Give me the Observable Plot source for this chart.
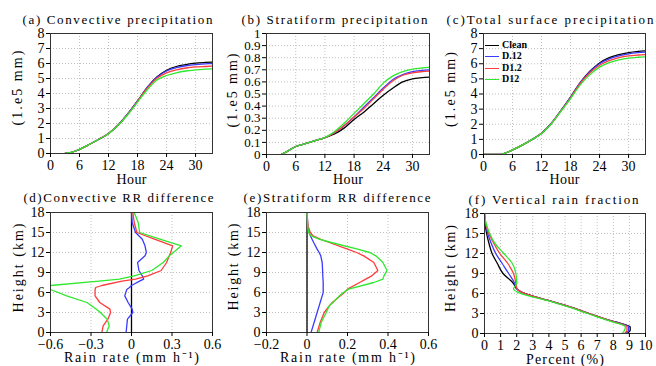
<!DOCTYPE html>
<html><head><meta charset="utf-8">
<script src="https://cdn.jsdelivr.net/npm/d3@7"></script>
<script src="https://cdn.jsdelivr.net/npm/@observablehq/plot@0.6"></script>
<style>
body{margin:0;background:#fff;}
#chart{position:relative;width:656px;height:366px;overflow:hidden;background:#fff;}
#chart svg{position:absolute;}
.leg{position:absolute;font:bold 10px 'Liberation Serif',serif;color:#000;line-height:12px;white-space:nowrap;}
.leg span{display:inline-block;width:14px;height:0;border-top:1.5px solid;vertical-align:middle;margin-right:3px;}
</style></head><body><div id="chart"></div>
<script>
// ---------- data ----------
const series = ["Clean", "D.12", "D1.2", "D12"];
const colors = ["#000000", "#3b3bff", "#ff3b3b", "#2ee82e"];

const titles = ["(a) Convective precipitation", "(b) Stratiform precipitation", "(c)Total surface precipitation",
                "(d)Convective RR difference", "(e)Stratiform RR difference", "(f) Vertical rain fraction"];
const yLabels = ["(1.e5 mm)", "(1.e5 mm)", "(1.e5 mm)", "Height (km)", "Height (km)", "Height (km)"];
const xLabels = ["Hour", "Hour", "Hour", "Rain rate (mm h\u207B\u00B9)", "Rain rate (mm h\u207B\u00B9)", "Percent (%)"];

const hourTicks = [0, 6, 12, 18, 24, 30];
const precipTicks = [0, 1, 2, 3, 4, 5, 6, 7, 8];
const stratTicks = [0, 0.1, 0.2, 0.3, 0.4, 0.5, 0.6, 0.7, 0.8, 0.9, 1];
const heightTicks = [0, 3, 6, 9, 12, 15, 18];
const convRRTicks = [-0.6, -0.3, 0, 0.3, 0.6];
const stratRRTicks = [-0.2, 0, 0.2, 0.4, 0.6];
const percentTicks = [0, 1, 2, 3, 4, 5, 6, 7, 8, 9, 10];

// (a) convective precipitation (1e5 mm) vs hour
const hoursA = [3, 4, 6, 8, 10, 12, 14, 16, 18, 20, 22, 24, 26, 28, 30, 32, 33.5];
const convClean = [0, 0.05, 0.28, 0.6, 0.95, 1.33, 1.9, 2.65, 3.5, 4.4, 5.1, 5.55, 5.8, 5.93, 6.02, 6.07, 6.1];
const convDp12  = [0, 0.05, 0.28, 0.6, 0.95, 1.33, 1.9, 2.65, 3.5, 4.4, 5.08, 5.5, 5.72, 5.85, 5.93, 5.97, 6.0];
const convD1p2  = [0, 0.05, 0.28, 0.6, 0.95, 1.33, 1.9, 2.63, 3.48, 4.35, 5.02, 5.38, 5.58, 5.7, 5.77, 5.8, 5.82];
const convD12   = [0, 0.05, 0.28, 0.6, 0.95, 1.32, 1.88, 2.6, 3.42, 4.25, 4.9, 5.2, 5.38, 5.5, 5.57, 5.62, 5.65];

// (b) stratiform precipitation (1e5 mm) vs hour
const hoursB = [3, 4, 6, 8, 10, 12, 14, 16, 18, 20, 22, 24, 26, 28, 30, 32, 33.5];
const stratClean = [0, 0.02, 0.066, 0.09, 0.115, 0.14, 0.17, 0.22, 0.29, 0.35, 0.42, 0.49, 0.55, 0.6, 0.625, 0.635, 0.64];
const stratDp12  = [0, 0.02, 0.066, 0.09, 0.115, 0.14, 0.18, 0.24, 0.31, 0.39, 0.47, 0.55, 0.62, 0.66, 0.685, 0.695, 0.70];
const stratD1p2  = [0, 0.02, 0.066, 0.09, 0.115, 0.14, 0.18, 0.24, 0.31, 0.38, 0.46, 0.54, 0.61, 0.655, 0.675, 0.685, 0.69];
const stratD12   = [0, 0.02, 0.066, 0.09, 0.115, 0.14, 0.19, 0.26, 0.34, 0.42, 0.5, 0.59, 0.65, 0.685, 0.705, 0.715, 0.72];

// (c) total surface precipitation (1e5 mm) vs hour
const hoursC = [0, 2, 3.5, 4, 6, 8, 10, 12, 14, 16, 18, 20, 22, 24, 26, 28, 30, 32, 33.5];
const totClean = [0, 0, 0, 0.04, 0.3, 0.62, 0.98, 1.4, 2.05, 2.9, 3.8, 4.75, 5.5, 6.05, 6.4, 6.6, 6.74, 6.82, 6.86];
const totDp12  = [0, 0, 0, 0.04, 0.3, 0.62, 0.98, 1.4, 2.05, 2.9, 3.8, 4.75, 5.48, 6.0, 6.32, 6.52, 6.65, 6.73, 6.77];
const totD1p2  = [0, 0, 0, 0.04, 0.3, 0.62, 0.98, 1.4, 2.04, 2.88, 3.75, 4.7, 5.4, 5.9, 6.2, 6.4, 6.52, 6.58, 6.61];
const totD12   = [0, 0, 0, 0.04, 0.3, 0.62, 0.98, 1.39, 2.02, 2.85, 3.7, 4.6, 5.28, 5.78, 6.07, 6.25, 6.37, 6.43, 6.46];

// (d) convective rain-rate difference (mm/h) vs height (km)
const heightsD = [0, 1, 2, 3, 3.5, 4.5, 5.5, 6.45, 6.75, 7.05, 7.7, 8, 8.5, 9.3, 10.5, 11.5, 12, 13, 14, 15, 16.5, 18];
const convRRClean = [0, 0, 0, 0, 0, 0, 0, 0, 0, 0, 0, 0, 0, 0, 0, 0, 0, 0, 0, 0, 0, 0];
const convRRDp12  = [-0.04, -0.035, -0.03, 0.01, 0.005, -0.025, -0.05, -0.035, -0.015, 0, 0.06, 0.09, 0.08, 0.055, 0.045, 0.1, 0.11, 0.1, 0.08, 0.03, 0.005, 0];
const convRRD1p2  = [-0.22, -0.21, -0.175, -0.155, -0.16, -0.235, -0.27, -0.27, -0.265, -0.22, -0.07, 0.03, 0.12, 0.22, 0.26, 0.28, 0.29, 0.305, 0.17, 0.04, 0.02, 0.01];
const convRRD12   = [-0.185, -0.165, -0.18, -0.23, -0.26, -0.33, -0.48, -0.6, -0.68, -0.6, -0.24, -0.09, 0.02, 0.15, 0.235, 0.28, 0.31, 0.37, 0.21, 0.06, 0.05, 0.02];

// (e) stratiform rain-rate difference (mm/h) vs height (km)
const heightsE = [0, 1.5, 3, 4, 4.5, 5.5, 6, 6.5, 7.5, 8, 8.5, 9.3, 10.5, 11.5, 12, 12.5, 13.5, 14, 14.5, 15, 16, 18];
const stratRRClean = [0, 0, 0, 0, 0, 0, 0, 0, 0, 0, 0, 0, 0, 0, 0, 0, 0, 0, 0, 0, 0, 0];
const stratRRDp12  = [0.02, 0.035, 0.05, 0.06, 0.065, 0.075, 0.08, 0.08, 0.08, 0.079, 0.078, 0.077, 0.075, 0.068, 0.06, 0.05, 0.033, 0.025, 0.017, 0.01, 0.004, 0];
const stratRRD1p2  = [0.05, 0.065, 0.085, 0.11, 0.125, 0.165, 0.185, 0.2, 0.26, 0.29, 0.32, 0.35, 0.33, 0.28, 0.245, 0.2, 0.11, 0.065, 0.03, 0.016, 0.005, 0];
const stratRRD12   = [0.058, 0.07, 0.095, 0.11, 0.128, 0.16, 0.18, 0.205, 0.33, 0.375, 0.38, 0.395, 0.375, 0.34, 0.31, 0.25, 0.12, 0.06, 0.02, 0.008, 0.003, 0];

// (f) vertical rain fraction (%) vs height (km)
const heightsF = [0, 0.5, 1, 1.5, 2, 3, 4, 5, 5.6, 6.2, 6.7, 7.5, 9, 10.5, 12, 13.5, 15, 16.5, 17.5, 18];
const fracClean = [8.85, 9.05, 9.05, 8.5, 7.7, 6.5, 5.3, 3.9, 3.0, 2.3, 2.0, 1.8, 1.15, 0.8, 0.47, 0.28, 0.13, 0.04, 0.01, 0];
const fracDp12  = [8.75, 8.95, 8.95, 8.45, 7.7, 6.5, 5.3, 3.9, 3.0, 2.3, 2.0, 1.88, 1.5, 1.1, 0.7, 0.42, 0.2, 0.06, 0.015, 0];
const fracD1p2  = [8.7, 8.85, 8.85, 8.4, 7.7, 6.5, 5.3, 3.9, 3.0, 2.3, 2.02, 1.95, 1.8, 1.45, 0.95, 0.58, 0.27, 0.08, 0.02, 0];
const fracD12   = [8.55, 8.7, 8.75, 8.3, 7.6, 6.4, 5.2, 3.8, 2.8, 2.05, 1.8, 2.0, 1.95, 1.73, 1.2, 0.65, 0.32, 0.1, 0.02, 0];

// ---------- build ----------
function timeRows(xs, arrays) {
  const rows = [];
  arrays.forEach((vals, i) => xs.forEach((x, j) => rows.push({s: series[i], x, y: vals[j]})));
  return rows;
}
function profileRows(hs, arrays) {
  const rows = [];
  arrays.forEach((vals, i) => hs.forEach((h, j) => rows.push({s: series[i], x: vals[j], y: h})));
  return rows;
}
const fmt = d => String(d).replace("-", "\u2212");

const panels = [
  {left: 0, top: 0, width: 218, height: 188, mL: 50, mR: 6, mT: 33, mB: 35, xd: [0, 33.5], yd: [0, 8], yfs: 14,
   xt: hourTicks, yt: precipTicks, rows: timeRows(hoursA, [convClean, convDp12, convD1p2, convD12]), curve: "monotone-x",
   tx: 22, ty: 19, tw: 190, ylx: 17, ylc: 87.5, ylw: 75, xly: 179, xlw: 30},
  {left: 218, top: 0, width: 218, height: 188, mL: 48, mR: 7, mT: 33, mB: 34, xd: [0, 33.5], yd: [0, 1], yfs: 13,
   xt: hourTicks, yt: stratTicks, rows: timeRows(hoursB, [stratClean, stratDp12, stratD1p2, stratD12]), curve: "monotone-x",
   tx: 241, ty: 19, tw: 186, ylx: 232, ylc: 90, ylw: 74, xly: 179, xlw: 30},
  {left: 436, top: 0, width: 220, height: 188, mL: 47, mR: 11, mT: 33, mB: 34, xd: [0, 33.5], yd: [0, 8], yfs: 14,
   xt: hourTicks, yt: precipTicks, rows: timeRows(hoursC, [totClean, totDp12, totD1p2, totD12]), curve: "monotone-x",
   tx: 446, ty: 19, tw: 207, ylx: 450, ylc: 89, ylw: 75, xly: 179, xlw: 30},
  {left: 0, top: 180, width: 218, height: 186, mL: 50, mR: 6, mT: 32, mB: 34, xd: [-0.6, 0.6], yd: [0, 18], yfs: 14,
   xt: convRRTicks, yt: heightTicks, rows: profileRows(heightsD, [convRRClean, convRRDp12, convRRD1p2, convRRD12]), curve: "linear",
   tx: 23, ty: 197, tw: 190, ylx: 18, ylc: 267.5, ylw: 89, xly: 357, xlw: 135},
  {left: 218, top: 180, width: 218, height: 186, mL: 48, mR: 8, mT: 32, mB: 34, xd: [-0.2, 0.6], yd: [0, 18], yfs: 14,
   xt: stratRRTicks, yt: heightTicks, rows: profileRows(heightsE, [stratRRClean, stratRRDp12, stratRRD1p2, stratRRD12]), curve: "linear",
   tx: 243, ty: 197, tw: 187, ylx: 233, ylc: 266.5, ylw: 87, xly: 357, xlw: 135},
  {left: 436, top: 180, width: 220, height: 186, mL: 48, mR: 11, mT: 33, mB: 33, xd: [0, 10], yd: [0, 18], yfs: 14,
   xt: percentTicks, yt: heightTicks, rows: profileRows(heightsF, [fracClean, fracDp12, fracD1p2, fracD12]), curve: "monotone-y",
   tx: 468, ty: 199, tw: 170, ylx: 450, ylc: 268, ylw: 87, xly: 359, xlw: 78}
];

const chart = document.getElementById("chart");
const FONT = "'Liberation Serif', 'Times New Roman', serif";

panels.forEach((p, i) => {
  const fh = p.height - p.mT - p.mB;
  const fx = p.left + p.mL, fy = p.top + p.mT;
  const svg = Plot.plot({
    width: p.width, height: p.height,
    marginLeft: p.mL, marginRight: p.mR, marginTop: p.mT, marginBottom: p.mB,
    style: {background: "transparent", fontFamily: FONT, fontSize: "14px", color: "#000", overflow: "visible"},
    x: {domain: p.xd},
    y: {domain: p.yd},
    color: {domain: series, range: colors},
    marks: [
      Plot.gridX(p.xt, {stroke: "#c0c0c0", strokeOpacity: 1, strokeDasharray: "1,2"}),
      Plot.gridY(p.yt, {stroke: "#c0c0c0", strokeOpacity: 1, strokeDasharray: "1,2"}),
      Plot.line(p.rows, {x: "x", y: "y", z: "s", stroke: "s", strokeWidth: 1.3, curve: p.curve, clip: true}),
      Plot.frame({stroke: "#333", strokeWidth: 1}),
      Plot.axisX(p.xt, {tickSize: 4, tickPadding: 3, fontSize: 14, fontFamily: FONT, label: null, tickFormat: fmt}),
      Plot.axisY(p.yt, {tickSize: 4, tickPadding: 2, fontSize: p.yfs, fontFamily: FONT, label: null, tickFormat: fmt}),
      Plot.text([titles[i]], {frameAnchor: "top-left", dx: p.tx - fx, dy: p.ty - fy, textAnchor: "start",
        lineAnchor: "middle", fontSize: 13, fontFamily: FONT}),
      Plot.text([yLabels[i]], {frameAnchor: "left", rotate: -90, dx: p.ylx - fx, dy: p.ylc - (fy + fh / 2),
        textAnchor: "middle", lineAnchor: "middle", fontSize: 14, fontFamily: FONT}),
      Plot.text([xLabels[i]], {frameAnchor: "bottom", dy: p.xly - (fy + fh), textAnchor: "middle",
        lineAnchor: "middle", fontSize: 14, fontFamily: FONT})
    ]
  });
  svg.style.left = p.left + "px";
  svg.style.top = p.top + "px";
  const fits = [[titles[i], p.tw], [yLabels[i], p.ylw], [xLabels[i], p.xlw]];
  for (const t of svg.querySelectorAll("text")) {
    for (const [str, w] of fits) {
      if (t.textContent === str) { t.setAttribute("textLength", w); t.setAttribute("lengthAdjust", "spacing"); }
    }
  }
  chart.appendChild(svg);
});

// legend for panel (c)
const legendTop = [45, 56, 67.5, 79];
series.forEach((s, i) => {
  const d = document.createElement("div");
  d.className = "leg";
  d.style.left = "485px";
  d.style.top = (legendTop[i] - 6) + "px";
  const sw = document.createElement("span");
  sw.style.borderColor = colors[i];
  d.appendChild(sw);
  d.appendChild(document.createTextNode(s));
  chart.appendChild(d);
});
</script>
</body></html>
